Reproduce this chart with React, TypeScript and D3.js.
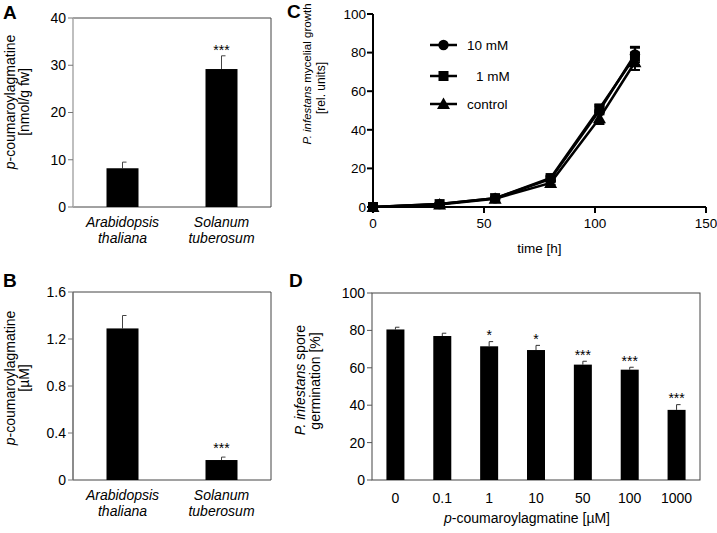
import React from "react";
import * as d3 from "d3";

// Panel A data
const speciesA = ["Arabidopsis thaliana", "Solanum tuberosum"];
const valuesA = [8.2, 29.2];
const errA = [1.3, 2.8];
const sigA = ["", "***"];
const ticksA = [0, 10, 20, 30, 40];

// Panel B data
const valuesB = [1.29, 0.17];
const errB = [0.11, 0.025];
const sigB = ["", "***"];
const ticksB = [0, 0.4, 0.8, 1.2, 1.6];

// Panel C data
const timesC = [0, 30, 55, 80, 102, 118];
const series10mM = [0, 1.5, 4.5, 14.5, 50, 79];
const err10mM = [0, 0.4, 0.6, 1.2, 2, 4];
const series1mM = [0, 1.5, 4.6, 15, 51, 78];
const err1mM = [0, 0.4, 0.6, 1.2, 2, 4.5];
const seriesCtrl = [0, 1.3, 4.3, 12.5, 46, 75];
const errCtrl = [0, 0.4, 0.6, 1, 3, 4];
const legendC = ["10 mM", "1 mM", "control"];
const xTicksC = [0, 50, 100, 150];
const yTicksC = [0, 20, 40, 60, 80, 100];

// Panel D data
const concD = ["0", "0.1", "1", "10", "50", "100", "1000"];
const valuesD = [80.5, 77, 71.5, 69.5, 61.7, 59, 37.5];
const errD = [1.2, 1.5, 2.5, 2.5, 1.8, 1.3, 2.8];
const sigD = ["", "", "*", "*", "***", "***", "***"];
const ticksD = [0, 20, 40, 60, 80, 100];

const FONT = "'Liberation Sans', Arial, sans-serif";
const FS = 14;

function SpeciesLabel({ name, x, y }: { name: string; x: number; y: number }) {
  const parts = name.split(" ");
  return (
    <text x={x} y={y} textAnchor="middle" fontStyle="italic" fontSize={FS}>
      <tspan x={x}>{parts[0]}</tspan>
      <tspan x={x} dy={16}>{parts[1]}</tspan>
    </text>
  );
}

function BarPanel({
  values, errs, sigs, ticks, yMax, top, bottom, fmt, unit, labelY, starsOff, titleY, leftColor,
}: any) {
  const left = 73, right = 271;
  const x = d3.scalePoint<string>().domain(speciesA).range([left, right]).padding(0.5);
  const y = d3.scaleLinear().domain([0, yMax]).range([bottom, top]);
  const bw = 32;
  return (
    <g>
      <line x1={left} x2={right} y1={top} y2={top} stroke="#444" strokeWidth={1} />
      <line x1={right} x2={right} y1={top} y2={bottom} stroke="#444" strokeWidth={1} />
      <line x1={left} x2={right} y1={bottom} y2={bottom} stroke="#444" strokeWidth={1} />
      <line x1={left} x2={left} y1={top} y2={bottom} stroke={leftColor} strokeWidth={1.5} />
      {ticks.map((t: number) => (
        <g key={t}>
          <line x1={left - 5} x2={left} y1={y(t)} y2={y(t)} stroke="#777" />
          <text x={left - 7} y={y(t)} dy="0.35em" textAnchor="end" fontSize={FS}>
            {fmt(t)}
          </text>
        </g>
      ))}
      {speciesA.map((s, i) => {
        const cx = x(s)!;
        const v = values[i];
        const e = errs[i];
        return (
          <g key={s}>
            <line x1={cx} x2={cx} y1={y(v)} y2={y(v + e)} stroke="#444" />
            <line x1={cx} x2={cx + 4} y1={y(v + e)} y2={y(v + e)} stroke="#444" />
            <rect x={cx - bw / 2} y={y(v)} width={bw} height={y(0) - y(v)} fill="#000" />
            {sigs[i] && (
              <text x={cx} y={y(v + e) - starsOff} textAnchor="middle" fontSize={FS}>
                {sigs[i]}
              </text>
            )}
            <SpeciesLabel name={s} x={cx} y={labelY} />
          </g>
        );
      })}
      <text
        transform={`translate(15,${titleY}) rotate(-90)`}
        textAnchor="middle"
        fontSize={FS}
      >
        <tspan fontStyle="italic">p</tspan>-coumaroylagmatine
      </text>
      <text
        transform={`translate(29,${titleY}) rotate(-90)`}
        textAnchor="middle"
        fontSize={FS}
      >
        {unit}
      </text>
    </g>
  );
}

function Marker({ shape, x, y }: { shape: string; x: number; y: number }) {
  if (shape === "circle") return <circle cx={x} cy={y} r={5.2} fill="#000" />;
  if (shape === "square") return <rect x={x - 5} y={y - 5} width={10} height={10} fill="#000" />;
  return <path d={`M${x},${y - 6.5}L${x + 6.5},${y + 5}L${x - 6.5},${y + 5}Z`} fill="#000" />;
}

function PanelC() {
  const x = d3.scaleLinear().domain([0, 150]).range([373, 706]);
  const y = d3.scaleLinear().domain([0, 100]).range([207, 14]);
  const series = [
    { name: legendC[0], vals: series10mM, errs: err10mM, shape: "circle" },
    { name: legendC[1], vals: series1mM, errs: err1mM, shape: "square" },
    { name: legendC[2], vals: seriesCtrl, errs: errCtrl, shape: "triangle" },
  ];
  const line = d3
    .line<number>()
    .x((_, i) => x(timesC[i]))
    .y((d) => y(d));
  const legY = [45, 76, 104];
  return (
    <g>
      {series.map((s) => (
        <g key={s.name}>
          {s.vals.map((v, i) =>
            s.errs[i] > 0 ? (
              <g key={i}>
                <line x1={x(timesC[i])} x2={x(timesC[i])} y1={y(v - s.errs[i])} y2={y(v + s.errs[i])} stroke="#000" strokeWidth={2} />
                <line x1={x(timesC[i]) - 5} x2={x(timesC[i]) + 5} y1={y(v + s.errs[i])} y2={y(v + s.errs[i])} stroke="#000" strokeWidth={2} />
                <line x1={x(timesC[i]) - 5} x2={x(timesC[i]) + 5} y1={y(v - s.errs[i])} y2={y(v - s.errs[i])} stroke="#000" strokeWidth={2} />
              </g>
            ) : null
          )}
          <path d={line(s.vals)!} fill="none" stroke="#000" strokeWidth={2.5} />
          {s.vals.map((v, i) => (
            <Marker key={i} shape={s.shape} x={x(timesC[i])} y={y(v)} />
          ))}
        </g>
      ))}
      <line x1={373} x2={373} y1={y(100)} y2={y(0)} stroke="#000" strokeWidth={2} />
      <line x1={373} x2={706} y1={y(0)} y2={y(0)} stroke="#000" strokeWidth={2} />
      {yTicksC.map((t) => (
        <g key={t}>
          <line x1={367} x2={373} y1={y(t)} y2={y(t)} stroke="#000" strokeWidth={2} />
          <text x={366} y={y(t)} dy="0.35em" textAnchor="end" fontSize={13.5}>{t}</text>
        </g>
      ))}
      {xTicksC.map((t) => (
        <g key={t}>
          <line x1={x(t)} x2={x(t)} y1={y(0)} y2={y(0) + 6} stroke="#000" strokeWidth={2} />
          <text x={x(t)} y={228} textAnchor="middle" fontSize={13.5}>{t}</text>
        </g>
      ))}
      <text x={x(75)} y={253} textAnchor="middle" fontSize={13.5}>time [h]</text>
      <text transform={`translate(311,74) rotate(-90)`} textAnchor="middle" fontSize={11.5}>
        <tspan fontStyle="italic">P. infestans</tspan> mycelial growth
      </text>
      <text transform={`translate(325,88) rotate(-90)`} textAnchor="middle" fontSize={12}>
        [rel. units]
      </text>
      {series.map((s, i) => (
        <g key={s.name}>
          <line x1={430} x2={457} y1={legY[i]} y2={legY[i]} stroke="#000" strokeWidth={2.5} />
          <Marker shape={s.shape} x={443.5} y={legY[i]} />
          <text x={i === 1 ? 476 : 467} y={legY[i]} dy="0.35em" fontSize={13.5}>{s.name}</text>
        </g>
      ))}
    </g>
  );
}

function PanelD() {
  const left = 372, right = 700, top = 293, bottom = 480;
  const x = d3.scaleBand<string>().domain(concD).range([left, right]);
  const y = d3.scaleLinear().domain([0, 100]).range([bottom, top]);
  const bw = 18;
  return (
    <g>
      <rect x={left} y={top} width={right - left} height={bottom - top} fill="none" stroke="#444" />
      {ticksD.map((t) => (
        <g key={t}>
          <line x1={left - 5} x2={left} y1={y(t)} y2={y(t)} stroke="#555" />
          <text x={left - 7} y={y(t)} dy="0.35em" textAnchor="end" fontSize={FS}>{t}</text>
        </g>
      ))}
      {concD.map((c, i) => {
        const cx = x(c)! + x.bandwidth() / 2;
        const v = valuesD[i];
        const e = errD[i];
        return (
          <g key={c}>
            <line x1={cx} x2={cx} y1={y(v)} y2={y(v + e)} stroke="#333" />
            <line x1={cx} x2={cx + 4} y1={y(v + e)} y2={y(v + e)} stroke="#333" />
            <rect x={cx - bw / 2} y={y(v)} width={bw} height={y(0) - y(v)} fill="#000" />
            {sigD[i] && (
              <text x={cx} y={y(v + e) - 1.5} textAnchor="middle" fontSize={FS}>{sigD[i]}</text>
            )}
            <text x={cx} y={503} textAnchor="middle" fontSize={FS}>{c}</text>
          </g>
        );
      })}
      <text x={527} y={523} textAnchor="middle" fontSize={FS}>
        <tspan fontStyle="italic">p</tspan>-coumaroylagmatine [µM]
      </text>
      <text transform={`translate(305,380) rotate(-90)`} textAnchor="middle" fontSize={FS}>
        <tspan fontStyle="italic">P. infestans</tspan> spore
      </text>
      <text transform={`translate(320,381) rotate(-90)`} textAnchor="middle" fontSize={FS}>
        germination [%]
      </text>
    </g>
  );
}

export default function App() {
  const fmtA = (t: number) => d3.format("d")(t);
  const fmtB = (t: number) => (t === 0 ? "0" : d3.format(".1f")(t));
  return (
    <svg
      width={717}
      height={533}
      style={{ position: "absolute", left: 0, top: 0, background: "#fff" }}
      fontFamily={FONT}
    >
      <rect width={717} height={533} fill="#fff" />
      <BarPanel values={valuesA} errs={errA} sigs={sigA} ticks={ticksA} yMax={40} top={18} bottom={207}
        fmt={fmtA} unit="[nmol/g fw]" labelY={227} starsOff={1} titleY={102} leftColor="#aaa" />
      <BarPanel values={valuesB} errs={errB} sigs={sigB} ticks={ticksB} yMax={1.6} top={292} bottom={480}
        fmt={fmtB} unit="[µM]" labelY={500} starsOff={4.5} titleY={378} leftColor="#666" />
      <PanelC />
      <PanelD />
      <text x={3} y={19} fontSize={19} fontWeight="bold">A</text>
      <text x={3} y={287} fontSize={19} fontWeight="bold">B</text>
      <text x={287} y={18} fontSize={19} fontWeight="bold">C</text>
      <text x={289} y={287} fontSize={19} fontWeight="bold">D</text>
    </svg>
  );
}
